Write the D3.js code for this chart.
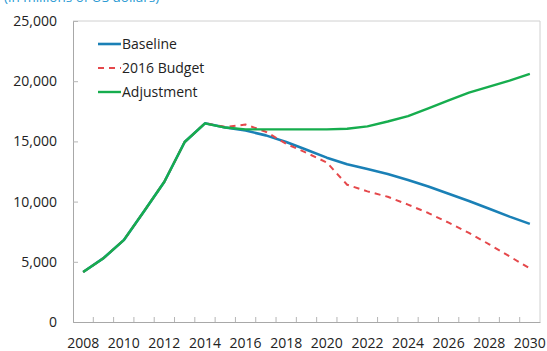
<!DOCTYPE html>
<html><head><meta charset="utf-8">
<script src="https://cdn.jsdelivr.net/npm/d3@7"></script>
<style>body{margin:0;background:#fff;}svg{display:block;font-family:"Open Sans","Noto Sans",sans-serif;}</style>
</head><body><svg id="c" width="547" height="351"></svg>
<script>
const years = [2008,2009,2010,2011,2012,2013,2014,2015,2016,2017,2018,2019,2020,2021,2022,2023,2024,2025,2026,2027,2028,2029,2030];
const baseline = [4150,5300,6800,9200,11650,14950,16500,16150,15900,15500,14950,14300,13650,13100,12700,12300,11800,11250,10650,10050,9400,8750,8150];
const budget2016 = [4150,5300,6800,9200,11650,14950,16500,16200,16400,15800,14800,14050,13250,11400,10850,10400,9750,9050,8250,7400,6450,5450,4450];
const adjustment = [4150,5300,6800,9200,11650,14950,16500,16150,16000,16000,16000,16000,16000,16050,16250,16650,17100,17750,18400,19050,19550,20050,20600];
const yTicks = [0,5000,10000,15000,20000,25000];
const xLabels = [2008,2010,2012,2014,2016,2018,2020,2022,2024,2026,2028,2030];
const seriesNames = ["Baseline","2016 Budget","Adjustment"];
const subtitle = "(in millions of US dollars)";

const series = [
  {name: seriesNames[0], values: baseline, color: "#1a80b6", dash: null, w: 2.6},
  {name: seriesNames[1], values: budget2016, color: "#e5484b", dash: "6,5", w: 2},
  {name: seriesNames[2], values: adjustment, color: "#16ad4e", dash: null, w: 2.4}
];

const svg = d3.select("#c");
const L = 73, R = 540, T = 21, B = 322;
const x = d3.scaleBand().domain(years).range([L, R]).padding(0);
const cx = d => x(d) + x.bandwidth()/2;
const y = d3.scaleLinear().domain([0, 25000]).range([B, T]);

svg.append("text").attr("x", 4).attr("y", 2).attr("fill", "#2a9ad3")
  .attr("font-size", 13.5).text(subtitle);

// frame
svg.append("path").attr("d", `M${L},${T}H${R}V${B}`).attr("fill","none").attr("stroke","#d0d0d0").attr("stroke-width",1);

// y axis
const ya = svg.append("g").attr("transform", `translate(${L},0)`)
  .call(d3.axisLeft(y).tickValues(yTicks).tickFormat(d3.format(",")).tickSize(-5).tickPadding(16));
ya.select(".domain").attr("stroke", "#a8a8a8");
ya.selectAll(".tick line").attr("stroke", "#b5b5b5");
ya.selectAll("text").attr("font-size", 14).attr("fill", "#222").attr("font-family", "\"Open Sans\",sans-serif");

// x axis
const xa = svg.append("g").attr("transform", `translate(0,${B})`)
  .call(d3.axisBottom(x).tickValues(xLabels).tickSize(0).tickPadding(16));
xa.select(".domain").attr("stroke", "#a8a8a8");
xa.selectAll("text").attr("font-size", 14).attr("fill", "#222").attr("font-family", "\"Open Sans\",sans-serif");
svg.append("g").selectAll("line").data(years.slice(1)).join("line")
  .attr("x1", d => x(d)).attr("x2", d => x(d)).attr("y1", B).attr("y2", B - 5)
  .attr("stroke", "#b5b5b5");

// lines
const line = d3.line().x((d, i) => cx(years[i])).y(d => y(d));
series.forEach(s => {
  svg.append("path").datum(s.values).attr("d", line)
    .attr("fill", "none").attr("stroke", s.color).attr("stroke-width", s.w)
    .attr("stroke-dasharray", s.dash).attr("stroke-linejoin", "round");
});

// legend
const lg = svg.append("g");
series.forEach((s, i) => {
  const yy = 44 + i * 24;
  lg.append("line").attr("x1", 98).attr("x2", 121).attr("y1", yy).attr("y2", yy)
    .attr("stroke", s.color).attr("stroke-width", s.w).attr("stroke-dasharray", s.dash);
  lg.append("text").attr("x", 122).attr("y", yy + 5).attr("font-size", 14).attr("fill", "#222").text(s.name);
});
</script></body></html>
